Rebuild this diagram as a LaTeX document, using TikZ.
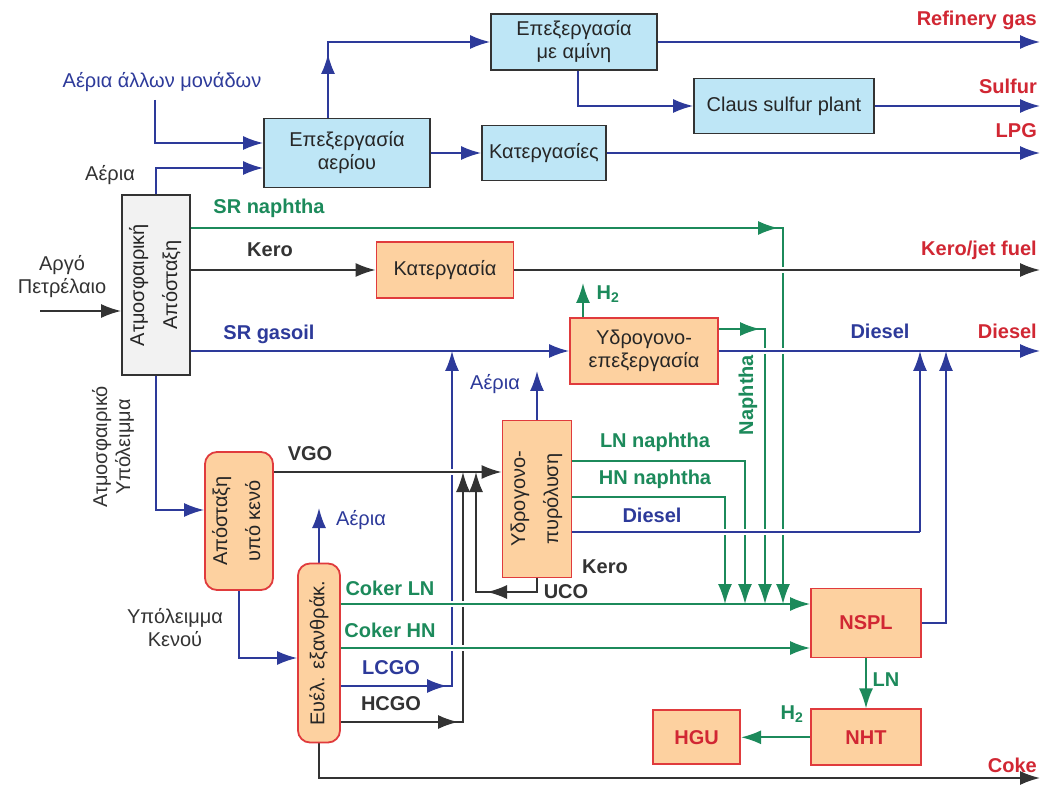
\documentclass[tikz,border=0pt]{standalone}
\usepackage{fontspec}
\setmainfont{Liberation Sans}
\usetikzlibrary{arrows.meta, positioning, backgrounds}
\definecolor{flowblue}{HTML}{2D3A9A}
\definecolor{flowgreen}{HTML}{1C8A5B}
\definecolor{prodred}{HTML}{D12733}
\definecolor{flowdark}{HTML}{333333}
\definecolor{unitfill}{HTML}{FDD1A0}
\definecolor{unitedge}{HTML}{E03B3D}
\definecolor{gasfill}{HTML}{BEE6F6}
\definecolor{colfill}{HTML}{F2F2F2}
\newcommand{\sidetext}[2]{\rotatebox{90}{\begin{tabular}{@{}c@{}}#1\\[10pt]#2\end{tabular}}}

\begin{document}
\begin{tikzpicture}[
    x=1pt, y=-1pt,
    font=\fontsize{20}{23}\selectfont,
    box/.style={rectangle, draw=#1, line width=1.8pt, align=center, inner sep=2pt, text=black!85},
    gasbox/.style={box=flowdark, fill=gasfill},
    colbox/.style={box=flowdark, fill=colfill},
    unit/.style={box=unitedge, fill=unitfill},
    drum/.style={unit, rounded corners=12pt},
    prod/.style={unit, font=\fontsize{20}{23}\selectfont\bfseries, text=prodred},
    flow/.style={-{Latex[length=20pt, width=14pt]}, line width=1.8pt, draw=#1},
    halo/.style={preaction={draw=white, line width=6pt, -}},
    tag/.style={font=\fontsize{20}{23}\selectfont\bfseries, text=#1, inner sep=1pt},
    gtag/.style={text=#1, align=center, inner sep=1pt}
]
\useasboundingbox (0,0) rectangle (1044,791);

% Units
\node[gasbox, minimum width=166pt, minimum height=56pt] (amine) at (574,42) {Επεξεργασία\\με αμίνη};
\node[gasbox, minimum width=180pt, minimum height=55pt] (claus) at (784,106) {Claus sulfur plant};
\node[gasbox, minimum width=166pt, minimum height=69pt] (gasproc) at (347,153) {Επεξεργασία\\αερίου};
\node[gasbox, minimum width=124pt, minimum height=55pt] (lpgproc) at (544,153) {Κατεργασίες};
\node[colbox, minimum width=68pt, minimum height=180pt] (cdu) at (156,285) {\sidetext{Ατμοσφαιρική}{Απόσταξη}};
\node[unit, minimum width=137pt, minimum height=56pt] (kerotr) at (445,270) {Κατεργασία};
\node[unit, minimum width=148pt, minimum height=66pt] (hdt) at (644,351) {Υδρογονο-\\επεξεργασία};
\node[unit, minimum width=69pt, minimum height=157pt] (hcr) at (537,499) {\sidetext{Υδρογονο-}{πυρόλυση}};
\node[drum, minimum width=68pt, minimum height=138pt] (vdu) at (239,521) {\sidetext{Απόσταξη}{υπό κενό}};
\node[drum, minimum width=42pt, minimum height=179pt] (coker) at (319,653) {\rotatebox{90}{Ευέλ. εξανθράκ.}};
\node[prod, minimum width=110pt, minimum height=69pt] (nspl) at (866,623) {NSPL};
\node[prod, minimum width=110pt, minimum height=56pt, below=50pt of nspl] (nht) {NHT};
\node[prod, minimum width=87pt, minimum height=54pt, left=69pt of nht] (hgu) {HGU};

% Free ends and junctions
\coordinate (crude) at (40,311);
\coordinate (othgas) at (155,100);
\coordinate (rgas) at (1040,42);
\coordinate (sulfur) at (1040,106);
\coordinate (lpg) at (1040,153);
\coordinate (jet) at (1040,270);
\coordinate (diesel) at (1040,351);
\coordinate (coke) at (1040,778);
\coordinate (h2out) at (583,283);
\coordinate (hcgas) at (537,371);
\coordinate (ckgas) at (319,508);
\coordinate (gasup) at ([xshift=-19pt]gasproc.north);
\coordinate (srn) at ([yshift=57pt]cdu.east);
\coordinate (nap) at ([yshift=22pt]hdt.east);
\coordinate (lnh) at ([yshift=38pt]hcr.east);
\coordinate (hnh) at ([yshift=2pt]hcr.east);
\coordinate (hcd) at ([yshift=-33pt]hcr.east);
\coordinate (lcgo) at ([yshift=-33pt]coker.east);
\coordinate (hcgo) at ([yshift=-69pt]coker.east);
\coordinate (lnIn) at ([yshift=19pt]nspl.west);
\coordinate (hnIn) at ([yshift=-25pt]nspl.west);
\coordinate (vgoIn) at ([yshift=27pt]hcr.west);
\coordinate (lcgoUp) at (452,351);
\coordinate (hcgoUp) at (463,472);
\coordinate (ucoUp) at (476,472);
\coordinate (ucoLow) at (476,592);
\coordinate (dHN) at (725,604);
\coordinate (dLN) at (745,604);
\coordinate (dNap) at (765,604);
\coordinate (dSRN) at (783,604);
\coordinate (dslUp1) at (920,351);
\coordinate (dslUp2) at (946,351);

\begin{scope}[on background layer]
\fill[white] (0,0) rectangle (1044,791);
% Gas plant
\draw[flow=flowblue] (othgas) |- ([yshift=10pt]gasproc.west);
\draw[flow=flowblue] (cdu.north) |- ([yshift=-15pt]gasproc.west);
\draw[flow=flowblue] (gasup) |- (amine.west);
\draw[flow=flowblue, shorten >=12pt] (gasup) -- (gasup |- amine.west);
\draw[flow=flowblue] (amine.east) -- (rgas);
\draw[flow=flowblue] ([xshift=4pt]amine.south) |- (claus.west);
\draw[flow=flowblue] (claus.east) -- (sulfur);
\draw[flow=flowblue] (gasproc.east) -- (lpgproc.west);
\draw[flow=flowblue] (lpgproc.east) -- (lpg);

% Crude unit
\draw[flow=flowdark] (crude) -- (crude -| cdu.west);
\draw[flow=flowdark] (cdu.east |- kerotr.west) -- (kerotr.west);
\draw[flow=flowblue] (cdu.east |- hdt.west) -- (hdt.west);
\draw[flow=flowgreen] (hdt.north -| h2out) -- (h2out);
\draw[flow=flowblue] (cdu.south) |- ([yshift=11pt]vdu.west);
\draw[flow=flowblue] (vdu.south) |- ([yshift=-5pt]coker.west);
\draw[flow=flowblue] (coker.north) -- (ckgas);
\draw[flow=flowblue] (hcr.north) -- (hcgas);
\draw[flow=flowdark] (coker.south) |- (coke);

% Gas oils back to the hydrocracker
\draw[flow=flowblue] (lcgo) -| (lcgoUp);
\draw[flow=flowblue, shorten >=5pt] (lcgo) -- (lcgo -| lcgoUp);
\draw[flow=flowdark, halo] (vdu.east |- vgoIn) -- (vgoIn);
\draw[flow=flowdark] (hcgo) -| (hcgoUp);
\draw[flow=flowdark, shorten >=5pt] (hcgo) -- (hcgo -| hcgoUp);
\draw[flow=flowdark] (hcr.south) |- (ucoLow) -- (ucoUp);
\draw[flow=flowdark] (hcr.south |- ucoLow) -- ([xshift=11pt]ucoLow);

% Naphthas to NSPL
\draw[flow=flowgreen, halo] (coker.east |- lnIn) -- (lnIn);
\draw[flow=flowgreen, halo] (coker.east |- hnIn) -- (hnIn);
\draw[flow=flowgreen] (srn) -| (dSRN);
\draw[flow=flowgreen, shorten >=5pt] (srn) -- (srn -| dSRN);
\draw[flow=flowgreen] (nap) -| (dNap);
\draw[flow=flowgreen, shorten >=5pt] (nap) -- (nap -| dNap);
\draw[flow=flowgreen] (lnh) -| (dLN);
\draw[flow=flowgreen] (hnh) -| (dHN);

% Products
\draw[flow=flowdark, halo] (kerotr.east) -- (jet);
\draw[flow=flowblue, halo] (hdt.east) -- (diesel);
\draw[line width=1.8pt, draw=flowblue, halo] (hcd) -- (hcd -| dslUp1);
\draw[flow=flowblue] (hcd -| dslUp1) -- (dslUp1);
\draw[flow=flowblue] (nspl.east) -| (dslUp2);
\draw[flow=flowgreen] (nspl.south) -- (nht.north);
\draw[flow=flowgreen] (nht.west) -- (hgu.east);
\end{scope}

% Labels
\node[gtag=flowblue] (lblOth) at (162,82) {Αέρια άλλων μονάδων};
\node[gtag=flowdark] (lblGas) at (110,175) {Αέρια};
\node[gtag=flowdark] (lblCrude) at (62,277) {Αργό\\Πετρέλαιο};
\node[gtag=flowdark, rotate=90] (lblAR) at (113,447) {Ατμοσφαιρικό\\Υπόλειμμα};
\node[gtag=flowdark] (lblVR) at (175,628) {Υπόλειμμα\\Κενού};
\node[gtag=flowblue] (lblHcGas) at (495,384) {Αέρια};
\node[gtag=flowblue] (lblCkGas) at (361,520) {Αέρια};
\node[tag=prodred, anchor=east] (lblRgas) at (1038,20) {Refinery gas};
\node[tag=prodred, anchor=east] (lblSulf) at (1038,86) {Sulfur};
\node[tag=prodred, anchor=east] (lblLpg) at (1038,131) {LPG};
\node[tag=prodred, anchor=east] (lblJet) at (1038,250) {Kero/jet fuel};
\node[tag=prodred, anchor=east] (lblDslR) at (1038,331) {Diesel};
\node[tag=prodred, anchor=east] (lblCoke) at (1038,765) {Coke};
\node[tag=flowblue] (lblDslB) at (880,331) {Diesel};
\node[tag=flowgreen] (lblSrn) at (269,208) {SR naphtha};
\node[tag=flowdark] (lblKero) at (270,250) {Kero};
\node[tag=flowblue] (lblSrg) at (269,334) {SR gasoil};
\node[tag=flowgreen] (lblH2a) at (608,294) {H\textsubscript{2}};
\node[tag=flowgreen, rotate=90] (lblNap) at (748,395) {Naphtha};
\node[tag=flowdark] (lblVgo) at (310,454) {VGO};
\node[tag=flowgreen] (lblLnn) at (655,442) {LN naphtha};
\node[tag=flowgreen] (lblHnn) at (655,479) {HN naphtha};
\node[tag=flowblue] (lblDslH) at (652,515) {Diesel};
\node[tag=flowdark] (lblKeroH) at (605,567) {Kero};
\node[tag=flowdark] (lblUco) at (566,592) {UCO};
\node[tag=flowgreen] (lblCln) at (390,588) {Coker LN};
\node[tag=flowgreen] (lblChn) at (390,630) {Coker HN};
\node[tag=flowblue] (lblLcgo) at (391,668) {LCGO};
\node[tag=flowdark] (lblHcgo) at (391,704) {HCGO};
\node[tag=flowgreen] (lblLN) at (886,680) {LN};
\node[tag=flowgreen] (lblH2b) at (792,714) {H\textsubscript{2}};
\end{tikzpicture}
\end{document}
